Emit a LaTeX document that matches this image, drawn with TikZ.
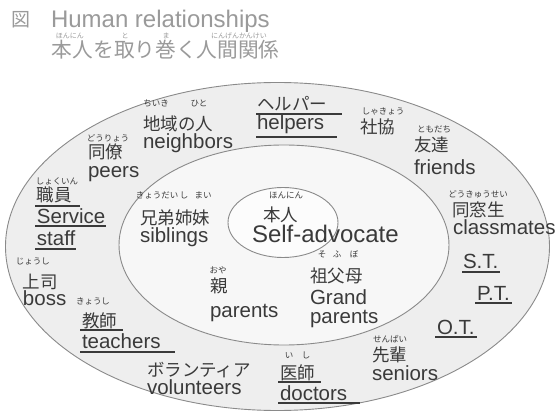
\documentclass[tikz,border=0pt]{standalone}
\usepackage{fontspec}
\setmainfont{Liberation Sans}
\newfontfamily\jp{Noto Sans CJK JP}
\usetikzlibrary{calc}
\definecolor{txt}{HTML}{3A3A3A}
\definecolor{titlec}{HTML}{9A9A9A}
\definecolor{ringline}{HTML}{8A8A8A}
\definecolor{outerfill}{HTML}{EEEEEE}
\definecolor{midfill}{HTML}{F7F7F7}
\definecolor{innerfill}{HTML}{FCFCFC}
\begin{document}
\begin{tikzpicture}[x=1pt,y=-1pt,
  every node/.style={inner sep=0pt, outer sep=0pt, text=txt},
  en/.style={anchor=base west, font=\fontsize{20.5}{20.5}\selectfont},
  ja/.style={anchor=base west, font=\jp\fontsize{17.5}{17.5}\selectfont},
  ruby/.style={anchor=base, font=\jp\fontsize{8.5}{8.5}\selectfont},
  truby/.style={anchor=base, text=titlec, font=\jp\fontsize{7}{7}\selectfont},
  ring/.style={draw=ringline, line width=0.9pt},
  uline/.style={draw=txt, line width=1.2pt}]
\useasboundingbox (0,0) rectangle (558,412);
\fill[white] (0,0) rectangle (558,412);
% rings
\path[ring, fill=outerfill] (277.5,246.5) ellipse [x radius=272, y radius=164];
\path[ring, fill=midfill] (284,245) ellipse [x radius=165, y radius=100];
\path[ring, fill=innerfill] (283,222.5) ellipse [x radius=55, y radius=35];
% title
\node[anchor=base west, font=\jp\fontsize{19}{19}\selectfont, text=titlec] (zu) at (12,27) {図};
\node[anchor=base west, font=\fontsize{24}{24}\selectfont, text=titlec] (ttl) at (51,27.5) {Human relationships};
\node[anchor=base west, font=\jp\fontsize{20.7}{20.7}\selectfont, text=titlec] (jttl) at (52,57.5) {本人を取り巻く人間関係};
\node[truby] (r1) at (70,38.5) {ほんにん};
\node[truby] (r2) at (125,38.5) {と};
\node[truby] (r3) at (166,38.5) {ま};
\node[truby] (r4) at (239,38.5) {にんげんかんけい};
% outer ring labels
\node[ruby] (rchiiki) at (156,107) {ちいき};
\node[ruby] (rhito) at (199,107) {ひと};
\node[ja] (chiiki) at (143,131) {地域の人};
\node[en] (neighbors) at (143,148.5) {neighbors};
\node[ja] (helperj) at (257,111) {ヘルパー};
\node[en] (helpers) at (257,130) {helpers};
\draw[uline] ([xshift=-1pt,yshift=-3pt]helperj.base west) -- ([xshift=15pt,yshift=-3pt]helperj.base east);
\draw[uline] ([xshift=-1pt,yshift=-7pt]helpers.base west) -- ([xshift=13pt,yshift=-7pt]helpers.base east);
\node[ruby] (rshakyo) at (383,115) {しゃきょう};
\node[ja] (shakyo) at (360,134) {社協};
\node[ruby] (rtomo) at (434,133) {ともだち};
\node[ja] (tomo) at (414,152) {友達};
\node[en] (friends) at (414,175) {friends};
\node[ruby] (rdoso) at (478,197) {どうきゅうせい};
\node[ja] (doso) at (452,216) {同窓生};
\node[en] (classmates) at (453,235) {classmates};
\node[ruby] (rdoryo) at (108,142) {どうりょう};
\node[ja] (doryo) at (88,159) {同僚};
\node[en] (peers) at (88,178) {peers};
\node[ruby] (rshokuin) at (57,185) {しょくいん};
\node[ja] (shokuin) at (37,202) {職員};
\node[en] (service) at (37,223) {Service};
\node[en] (staff) at (37,246) {staff};
\draw[uline] ([xshift=-2pt,yshift=-4pt]shokuin.base west) -- ([xshift=8pt,yshift=-4pt]shokuin.base east);
\draw[uline] ([xshift=-2pt,yshift=-3pt]service.base west) -- ([xshift=1pt,yshift=-3pt]service.base east);
\draw[uline] ([xshift=-2pt,yshift=-3pt]staff.base west) -- ([xshift=1pt,yshift=-3pt]staff.base east);
\node[ruby] (rjoshi) at (33,265) {じょうし};
\node[ja] (joshi) at (23,288.5) {上司};
\node[en] (boss) at (23,305.5) {boss};
\node[ruby] (rkyoshi) at (93,305) {きょうし};
\node[ja] (kyoshi) at (82,327) {教師};
\node[en] (teachers) at (82,348) {teachers};
\draw[uline] ([xshift=-2pt,yshift=-3pt]kyoshi.base west) -- ([xshift=6pt,yshift=-3pt]kyoshi.base east);
\draw[uline] ([xshift=-2pt,yshift=-4pt]teachers.base west) -- ([xshift=14pt,yshift=-4pt]teachers.base east);
\node[ja] (volj) at (147,376) {ボランティア};
\node[en] (volunteers) at (147,394.5) {volunteers};
\node[ruby] (ri) at (289,358) {い};
\node[ruby] (rshi) at (306,358) {し};
\node[ja] (ishi) at (280,379) {医師};
\node[en] (doctors) at (280,400) {doctors};
\draw[uline] ([xshift=-2pt,yshift=-3pt]ishi.base west) -- ([xshift=6pt,yshift=-3pt]ishi.base east);
\draw[uline] ([xshift=-2pt,yshift=-3pt]doctors.base west) -- ([xshift=13pt,yshift=-3pt]doctors.base east);
\node[ruby] (rsenpai) at (390,342) {せんぱい};
\node[ja] (senpai) at (372,361) {先輩};
\node[en] (seniors) at (372,380) {seniors};
\node[en] (st) at (463,269) {S.T.};
\node[en] (pt) at (477,300) {P.T.};
\node[en] (ot) at (437,334) {O.T.};
\draw[uline] ([xshift=-1pt,yshift=-3pt]st.base west) -- ([xshift=2pt,yshift=-3pt]st.base east);
\draw[uline] ([xshift=-2pt,yshift=-3pt]pt.base west) -- ([xshift=2pt,yshift=-3pt]pt.base east);
\draw[uline] ([xshift=-2pt,yshift=-3pt]ot.base west) -- ([xshift=2pt,yshift=-3pt]ot.base east);
% middle ring labels
\node[ruby] (rkyodai) at (157,199) {きょうだい};
\node[ruby] (rshi2) at (184,199) {し};
\node[ruby] (rmai) at (203,199) {まい};
\node[ja] (kyodai) at (140,225) {兄弟姉妹};
\node[en] (siblings) at (140,242) {siblings};
\node[ruby] (roya) at (218,273) {おや};
\node[ja] (oya) at (210,292) {親};
\node[en] (parents) at (210,317) {parents};
\node[ruby] (rso) at (322,258) {そ};
\node[ruby] (rfu) at (337,258) {ふ};
\node[ruby] (rbo) at (354,258) {ぼ};
\node[ja] (sofubo) at (310,282) {祖父母};
\node[en] (grand) at (310,304.5) {Grand};
\node[en] (gparents) at (310,323) {parents};
% centre
\node[ruby] (rhonnin) at (286,198) {ほんにん};
\node[ja] (honnin) at (263,222) {本人};
\node[anchor=base west, font=\fontsize{24}{24}\selectfont] (self) at (252,242.5) {Self-advocate};
\end{tikzpicture}
\end{document}
